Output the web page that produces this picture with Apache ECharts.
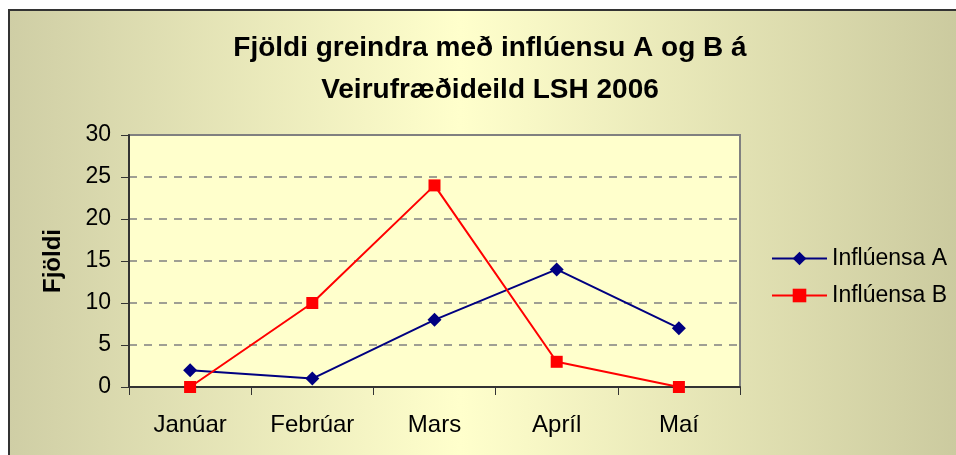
<!DOCTYPE html>
<html>
<head>
<meta charset="utf-8">
<script src="https://cdn.jsdelivr.net/npm/echarts@6/dist/echarts.min.js"></script>
<style>html,body{margin:0;padding:0;background:#fff;}#c{width:956px;height:455px;}</style>
</head>
<body>
<div id="c"></div>
<script>
const categories = ['Janúar', 'Febrúar', 'Mars', 'Apríl', 'Maí'];
const influensaA = [2, 1, 8, 14, 7];
const influensaB = [0, 10, 24, 3, 0];
const seriesNames = ['Inflúensa A', 'Inflúensa B'];
const titleLines = ['Fjöldi greindra með inflúensu A og B á', 'Veirufræðideild LSH 2006'];
const yAxisName = 'Fjöldi';

const chart = echarts.init(document.getElementById('c'), null, {renderer: 'canvas'});
const font = 'Liberation Sans, Arial, sans-serif';
chart.setOption({
  animation: false,
  backgroundColor: '#ffffff',
  graphic: [{
    type: 'rect', z: -10, silent: true,
    shape: {x: 9, y: 10, width: 960, height: 460},
    style: {
      fill: {type: 'linear', x: 0, y: 0, x2: 1, y2: 0, colorStops: [
        {offset: 0, color: '#CFCEA5'},
        {offset: 0.47, color: '#FFFFCC'},
        {offset: 1, color: '#CAC99E'}
      ]},
      stroke: '#333333', lineWidth: 2
    }
  }],
  title: {
    text: titleLines.join('\n'),
    left: 490, top: 27, textAlign: 'center', padding: 0,
    textStyle: {fontFamily: font, fontWeight: 'bold', fontSize: 28, lineHeight: 42, color: '#000'}
  },
  legend: {
    orient: 'vertical', left: 766, top: 242, itemGap: 14,
    itemWidth: 55, itemHeight: 17,
    textStyle: {fontFamily: font, fontSize: 23, color: '#000'},
    data: seriesNames
  },
  grid: {
    left: 129, top: 135, width: 611, height: 252,
    show: true, backgroundColor: '#FFFFCC', borderColor: '#808080', borderWidth: 2,
    containLabel: false
  },
  xAxis: {
    type: 'category', data: categories, boundaryGap: true,
    axisLine: {lineStyle: {color: '#333', width: 2}},
    axisTick: {show: true, length: 8, inside: false, lineStyle: {color: '#333', width: 1}},
    axisLabel: {fontFamily: font, fontSize: 24, color: '#000', margin: 26},
    splitLine: {show: false}
  },
  yAxis: {
    type: 'value', min: 0, max: 30, interval: 5,
    name: yAxisName, nameLocation: 'middle', nameGap: 64, nameRotate: 90,
    nameTextStyle: {fontFamily: font, fontWeight: 'bold', fontSize: 24, color: '#000'},
    axisLine: {show: true, lineStyle: {color: '#333', width: 2}},
    axisTick: {show: true, length: 8, lineStyle: {color: '#333', width: 1}},
    axisLabel: {fontFamily: font, fontSize: 23, color: '#000', margin: 18},
    splitLine: {show: true, lineStyle: {color: '#808080', width: 1.5, type: [8, 7]}}
  },
  series: [{
    name: seriesNames[0], type: 'line', data: influensaA,
    symbol: 'diamond', symbolSize: 14,
    lineStyle: {color: '#000080', width: 2},
    itemStyle: {color: '#000080'}
  }, {
    name: seriesNames[1], type: 'line', data: influensaB,
    symbol: 'rect', symbolSize: 12,
    lineStyle: {color: '#FF0000', width: 2},
    itemStyle: {color: '#FF0000'}
  }]
});
</script>
</body>
</html>
